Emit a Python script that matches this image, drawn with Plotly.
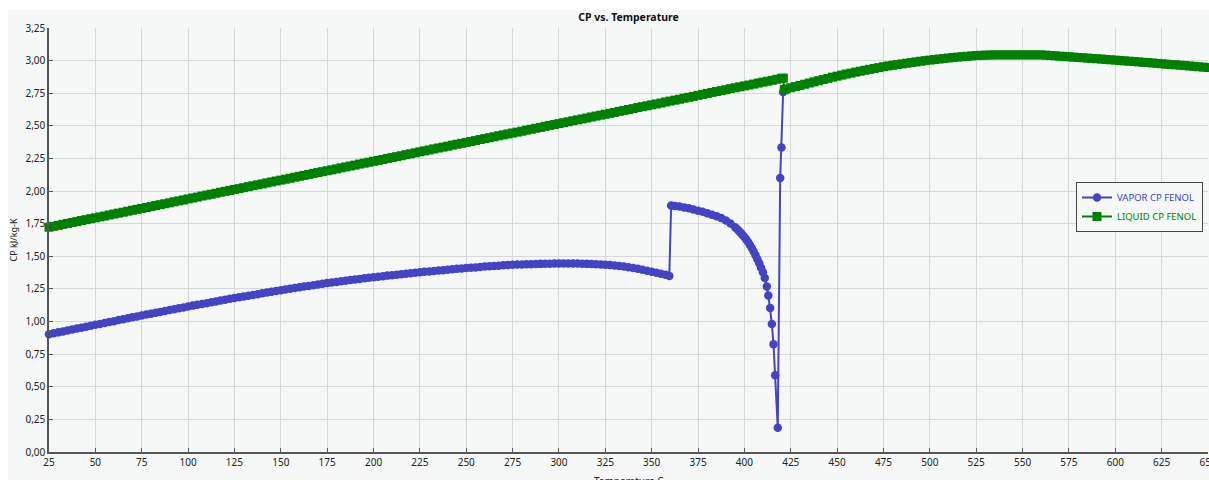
import plotly.graph_objects as go

# ---------------- data ----------------
def grid(a, b, step):
    n = int(round((b - a) / step)) + 1
    return [round(a + i * step, 3) for i in range(n)]

# VAPOR CP FENOL
vap_T = grid(25, 357.5, 2.5) + [359.5, 360.5] + grid(362.5, 395, 2.5) + [
    396, 397, 398, 399, 400, 401, 402, 403, 404,
    405, 406, 407, 408, 409, 410, 411, 412.1, 412.9, 413.9, 414.8, 415.7, 416.6,
    418, 419.3, 420, 420.9]
vap_cp = [
    0.903, 0.910, 0.917, 0.924, 0.932, 0.939, 0.946, 0.953, 0.960, 0.968,
    0.975, 0.982, 0.989, 0.996, 1.003, 1.011, 1.018, 1.025, 1.032, 1.039,
    1.047, 1.054, 1.060, 1.067, 1.074, 1.081, 1.088, 1.095, 1.101, 1.108,
    1.115, 1.122, 1.128, 1.135, 1.141, 1.148, 1.154, 1.161, 1.167, 1.174,
    1.180, 1.186, 1.192, 1.198, 1.204, 1.210, 1.216, 1.222, 1.228, 1.234,
    1.240, 1.246, 1.251, 1.257, 1.262, 1.268, 1.273, 1.279, 1.284, 1.290,
    1.295, 1.300, 1.304, 1.309, 1.313, 1.318, 1.322, 1.327, 1.331, 1.336,
    1.340, 1.344, 1.348, 1.352, 1.355, 1.359, 1.363, 1.367, 1.370, 1.374,
    1.378, 1.381, 1.384, 1.388, 1.391, 1.394, 1.397, 1.400, 1.404, 1.407,
    1.410, 1.413, 1.415, 1.418, 1.421, 1.423, 1.426, 1.428, 1.431, 1.433,
    1.435, 1.437, 1.438, 1.439, 1.440, 1.441, 1.442, 1.443, 1.443, 1.444,
    1.444, 1.444, 1.444, 1.444, 1.444, 1.443, 1.442, 1.441, 1.440, 1.438,
    1.436, 1.433, 1.430, 1.426, 1.422, 1.416, 1.410, 1.404, 1.397, 1.390,
    1.382, 1.374, 1.366, 1.358,
    1.350, 1.890,
    1.886, 1.881, 1.875, 1.868, 1.859, 1.850, 1.841, 1.830, 1.819, 1.807,
    1.794, 1.774, 1.752, 1.722,
    1.709, 1.695, 1.680, 1.664, 1.648, 1.629, 1.609, 1.587, 1.563,
    1.537, 1.508, 1.478, 1.447, 1.412, 1.378, 1.334, 1.269, 1.200, 1.103,
    0.982, 0.826, 0.588, 0.185, 2.100, 2.334, 2.760]

# LIQUID CP FENOL
liq_T = grid(25, 420, 2.5) + [421, 421.5, 422.5] + grid(425, 650, 2.5)
liq_cp = [
    1.723, 1.730, 1.737, 1.745, 1.752, 1.759, 1.766, 1.774, 1.781, 1.788,
    1.795, 1.802, 1.809, 1.817, 1.824, 1.831, 1.838, 1.846, 1.853, 1.860,
    1.867, 1.874, 1.881, 1.889, 1.896, 1.903, 1.910, 1.918, 1.925, 1.932,
    1.940, 1.947, 1.954, 1.962, 1.969, 1.976, 1.983, 1.991, 1.998, 2.005,
    2.012, 2.019, 2.026, 2.034, 2.041, 2.048, 2.055, 2.063, 2.070, 2.077,
    2.084, 2.091, 2.098, 2.106, 2.113, 2.120, 2.127, 2.135, 2.142, 2.149,
    2.156, 2.163, 2.170, 2.178, 2.185, 2.192, 2.199, 2.207, 2.214, 2.221,
    2.228, 2.235, 2.242, 2.250, 2.257, 2.264, 2.271, 2.279, 2.286, 2.293,
    2.301, 2.308, 2.315, 2.323, 2.330, 2.337, 2.344, 2.352, 2.359, 2.366,
    2.373, 2.380, 2.387, 2.395, 2.402, 2.409, 2.416, 2.424, 2.431, 2.438,
    2.445, 2.452, 2.459, 2.467, 2.474, 2.481, 2.488, 2.496, 2.503, 2.510,
    2.517, 2.524, 2.531, 2.539, 2.546, 2.553, 2.560, 2.568, 2.575, 2.582,
    2.589, 2.596, 2.603, 2.611, 2.618, 2.625, 2.632, 2.640, 2.647, 2.654,
    2.661, 2.668, 2.675, 2.683, 2.690, 2.697, 2.704, 2.712, 2.719, 2.726,
    2.734, 2.741, 2.748, 2.756, 2.763, 2.770, 2.777, 2.785, 2.792, 2.799,
    2.806, 2.813, 2.820, 2.828, 2.835, 2.842, 2.849, 2.857, 2.864,
    2.866, 2.777, 2.783,
    2.792, 2.801, 2.810, 2.819, 2.828, 2.837, 2.846, 2.855, 2.864, 2.873,
    2.881, 2.889, 2.897, 2.904, 2.912, 2.919, 2.926, 2.933, 2.940, 2.946,
    2.953, 2.959, 2.964, 2.970, 2.975, 2.980, 2.985, 2.990, 2.995, 3.000,
    3.004, 3.008, 3.012, 3.016, 3.020, 3.024, 3.027, 3.030, 3.033, 3.036,
    3.039, 3.041, 3.042, 3.043, 3.044, 3.044, 3.044, 3.044, 3.044, 3.044,
    3.044, 3.044, 3.044, 3.044, 3.044, 3.042, 3.039, 3.037, 3.034, 3.032,
    3.029, 3.027, 3.024, 3.022, 3.019, 3.017, 3.014, 3.012, 3.009, 3.006,
    3.004, 3.001, 2.998, 2.996, 2.993, 2.990, 2.987, 2.985, 2.982, 2.979,
    2.976, 2.973, 2.970, 2.968, 2.965, 2.962, 2.959, 2.956, 2.953, 2.950,
    2.947]

series_names = ["VAPOR CP FENOL", "LIQUID CP FENOL"]
title_text = "CP vs. Temperature"
x_title = "Temperature C"
y_title = "CP kJ/kg-K"

# ---------------- styling ----------------
W, H = 1209, 480
ML, MR, MT, MB = 49, 1, 28, 28
PW, PH = W - ML - MR, H - MT - MB
BG = "#f5f8f6"
VAP_COLOR = "#4343c3"
LIQ_COLOR = "#008000"
FONT = "Noto Sans, Open Sans, sans-serif"

fig = go.Figure()
fig.add_trace(go.Scatter(
    x=vap_T, y=vap_cp, mode="lines+markers",
    name=f"<span style='color:{VAP_COLOR}'>{series_names[0]}</span>",
    line=dict(color=VAP_COLOR, width=2),
    marker=dict(symbol="circle", size=8.5, color=VAP_COLOR),
    cliponaxis=False))
fig.add_trace(go.Scatter(
    x=liq_T, y=liq_cp, mode="lines+markers",
    name=f"<span style='color:{LIQ_COLOR}'>{series_names[1]}</span>",
    line=dict(color=LIQ_COLOR, width=2),
    marker=dict(symbol="square", size=9, color=LIQ_COLOR),
    cliponaxis=False))

axis_common = dict(
    showgrid=True, gridcolor="#d6d9d7", gridwidth=1,
    showline=True, linecolor="#555555", linewidth=1.5,
    ticks="inside", ticklen=4, tickcolor="#555555",
    tickfont=dict(family=FONT, size=10, color="#222222"),
    zeroline=False, ticklabeloverflow="allow",
)

fig.update_layout(
    width=W, height=H,
    margin=dict(l=ML, r=MR, t=MT, b=MB, autoexpand=False),
    paper_bgcolor="white", plot_bgcolor=BG,
    separators=",.",
    font=dict(family=FONT, size=10, color="#222222"),
    title=dict(text=f"<b>{title_text}</b>", x=0.5, xref="paper", xanchor="center",
               y=1 - 17 / H, yref="container", yanchor="middle",
               font=dict(family=FONT, size=10.5, color="#111111")),
    xaxis=dict(range=[25, 650], tick0=25, dtick=25, **axis_common),
    yaxis=dict(range=[0, 3.25], tick0=0, dtick=0.25, tickformat=".2f",
               title=dict(text=y_title, standoff=6,
                          font=dict(family=FONT, size=9, color="#222222")),
               **axis_common),
    legend=dict(x=(1203 - ML) / PW, xanchor="right", y=(H - MB - 182) / PH, yanchor="top",
                bgcolor=BG, bordercolor="#444444", borderwidth=1,
                font=dict(family=FONT, size=9.5), itemwidth=30,
                tracegroupgap=0),
    showlegend=True,
    shapes=[dict(type="rect", xref="paper", yref="paper", layer="below",
                 x0=(8 - ML) / PW, x1=1 + MR / PW, y0=-MB / PH, y1=1 + (MT - 10) / PH,
                 fillcolor=BG, line=dict(width=0))],
    annotations=[dict(text=x_title, xref="paper", yref="paper", x=0.5, xanchor="center",
                      y=-(481 - (H - MB)) / PH, yanchor="middle", showarrow=False,
                      font=dict(family=FONT, size=10, color="#222222"))],
)

fig.write_html("out.html")
